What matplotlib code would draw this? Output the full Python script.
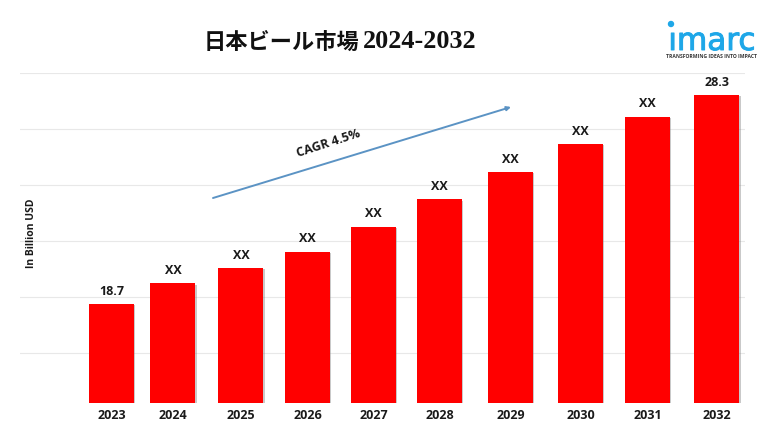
import matplotlib
matplotlib.use('Agg')
import matplotlib.pyplot as plt
import matplotlib.patheffects as pe
from matplotlib.patches import Ellipse, FancyArrowPatch

# Datos
years = [2023, 2024, 2025, 2026, 2027, 2028, 2029, 2030, 2031, 2032]
market_size = [18.7, 19.65, 20.35, 21.1, 22.25, 23.5, 24.75, 26.05, 27.3, 28.3]
bar_labels = ['18.7', 'XX', 'XX', 'XX', 'XX', 'XX', 'XX', 'XX', 'XX', '28.3']
grid_values = [16.45, 19.02, 21.59, 24.16, 26.73, 29.3]

# las barras del original no estan igual de separadas
slot_nudge = [0, -0.086, -0.075, -0.086, -0.104, -0.123, -0.067, -0.027, -0.03, 0]

W, H = 768, 432
LABEL_FONT = ['Open Sans', 'DejaVu Sans']
LOGO_BLUE = '#1ea7e8'
x_pos = [y + n for y, n in zip(years, slot_nudge)]

fig = plt.figure(figsize=(W / 100, H / 100), dpi=100)
ax = fig.add_axes([20 / W, 1 - 403 / H, 725 / W, 330 / H])
ax.set_xlim(2021.64, 2032.42)
ax.set_ylim(14.15, 29.3)

bars = ax.bar(x_pos, market_size, width=0.67, color='#ff0000', zorder=3,
              path_effects=[pe.SimplePatchShadow(offset=(1, -1), shadow_rgbFace='#888888', alpha=0.45),
                            pe.Normal()])
for b, lab in zip(bars, bar_labels):
    ax.annotate(lab, (b.get_x() + b.get_width() / 2, b.get_height()), xytext=(0, 4.5),
                textcoords='offset points', ha='center', va='bottom', fontsize=9,
                fontweight='bold', family=LABEL_FONT, color='#1a1a1a')

for spine in ax.spines.values():
    spine.set_visible(False)
ax.set_yticks(grid_values)
ax.set_yticklabels([])
ax.tick_params(axis='y', length=0)
ax.tick_params(axis='x', length=0, pad=4)
ax.grid(axis='y', color='#e8e8e8', linewidth=0.8, zorder=0)
ax.set_xticks(x_pos)
ax.set_xticklabels(years, fontsize=9, fontweight='bold', family=LABEL_FONT, color='#1a1a1a')

# flecha CAGR
fig.add_artist(FancyArrowPatch(
    (213 / W, 1 - 198 / H), (511 / W, 1 - 107 / H), transform=fig.transFigure,
    arrowstyle='-|>', mutation_scale=6, color='#5b93c4', linewidth=1.4,
    shrinkA=0, shrinkB=0))
fig.text(328 / W, 1 - 143 / H, 'CAGR 4.5%', rotation=18, ha='center', va='center',
         fontsize=9, fontweight='bold', family=LABEL_FONT, color='#1a1a1a')

fig.text(31 / W, 1 - 233 / H, 'In Billion USD', rotation=90, ha='center', va='center',
         fontsize=7.5, fontweight='bold', family=LABEL_FONT, color='#1a1a1a')

# titulo: japones en sans, los anos en serif
fig.text(204 / W, 1 - 42 / H, '日本ビール市場', ha='left', va='center',
         fontsize=16, fontweight='bold', family='Noto Sans CJK JP', color='#111111')
fig.text(477 / W, 1 - 42 / H, '2024-2032', ha='right', va='center',
         fontsize=18.8, fontweight='bold', family='Liberation Serif', color='#111111')

# logo
fig.text(712 / W, 1 - 50 / H, 'ımarc', ha='center', va='baseline', fontsize=22.4,
         family='DejaVu Sans', color=LOGO_BLUE,
         path_effects=[pe.withStroke(linewidth=0.7, foreground=LOGO_BLUE)])
fig.add_artist(Ellipse((671 / W, 1 - 24 / H), 5 / W, 5 / H, transform=fig.transFigure,
                       color=LOGO_BLUE))
fig.text(712 / W, 1 - 56 / H, 'TRANSFORMING IDEAS INTO IMPACT', ha='center', va='center',
         fontsize=3.6, fontweight='bold', family=LABEL_FONT, color='#333333')

fig.savefig('out.png', dpi=100)
